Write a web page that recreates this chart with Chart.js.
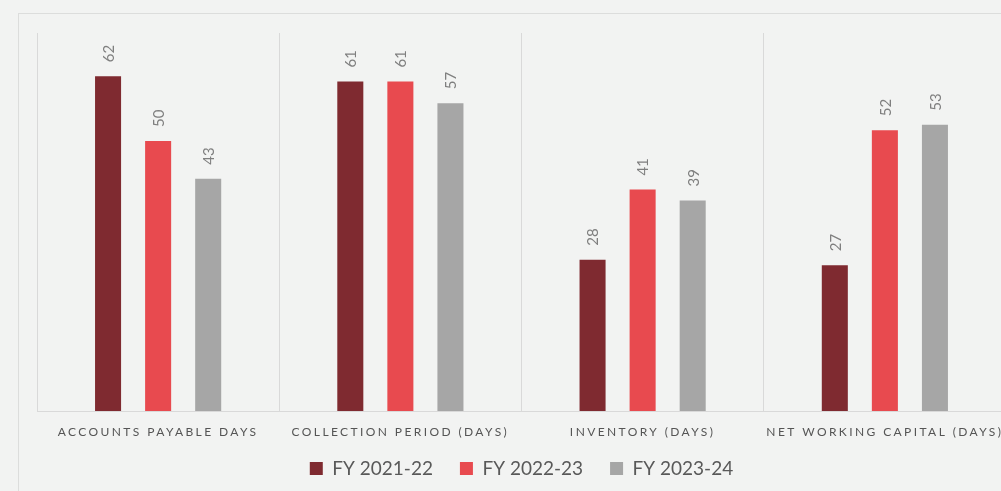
<!DOCTYPE html>
<html>
<head>
<meta charset="utf-8">
<script src="https://cdn.jsdelivr.net/npm/chart.js@4.4.0/dist/chart.umd.min.js"></script>
<style>
  html, body { margin: 0; padding: 0; background: #f2f3f2; overflow: hidden; }
  #frame { position: absolute; left: 18px; top: 13px; width: 2000px; height: 2000px; border: 1px solid #dcdddc; }
  #wrap { position: absolute; left: 0; top: 0; width: 1006px; height: 491px; }
</style>
</head>
<body>
<div id="frame"></div>
<div id="wrap"><canvas id="chart"></canvas></div>
<script>
// categories and series
const categories = ['ACCOUNTS PAYABLE DAYS', 'COLLECTION PERIOD (DAYS)', 'INVENTORY (DAYS)', 'NET WORKING CAPITAL (DAYS)'];
const fy2122 = [62, 61, 28, 27];
const fy2223 = [50, 61, 41, 52];
const fy2324 = [43, 57, 39, 53];

// value labels above bars, rotated like the original
const barLabels = {
    id: 'barLabels',
    afterDatasetsDraw(chart) {
        const ctx = chart.ctx;
        ctx.save();
        ctx.font = '15px Lato, "Open Sans", sans-serif';
        ctx.fillStyle = '#7f7f7f';
        ctx.textAlign = 'left';
        ctx.textBaseline = 'middle';
        chart.data.datasets.forEach((ds, i) => {
            chart.getDatasetMeta(i).data.forEach((bar, j) => {
                ctx.save();
                ctx.translate(bar.x, bar.y - 14);
                ctx.rotate(-Math.PI / 2);
                ctx.fillText(String(ds.data[j]), 0, 1);
                ctx.restore();
            });
        });
        ctx.restore();
    }
};

// spaced-out category labels under the axis
const catLabels = {
    id: 'catLabels',
    afterDraw(chart) {
        const ctx = chart.ctx;
        const x = chart.scales.x;
        ctx.save();
        ctx.font = '12px Lato, "Open Sans", sans-serif';
        ctx.letterSpacing = '2.4px';
        ctx.fillStyle = '#555555';
        ctx.textAlign = 'center';
        ctx.textBaseline = 'middle';
        categories.forEach((c, i) => {
            ctx.fillText(c, x.getPixelForTick(i), chart.chartArea.bottom + 21);
        });
        ctx.restore();
    }
};

new Chart(document.getElementById('chart'), {
    type: 'bar',
    data: {
        labels: categories,
        datasets: [
            { label: 'FY 2021-22', data: fy2122, backgroundColor: '#7f2a30' },
            { label: 'FY 2022-23', data: fy2223, backgroundColor: '#e84a4f' },
            { label: 'FY 2023-24', data: fy2324, backgroundColor: '#a6a6a6' }
        ]
    },
    options: {
        responsive: true,
        maintainAspectRatio: false,
        animation: false,
        layout: { padding: { top: 33, left: 37, right: 0, bottom: 3 } },
        datasets: { bar: { categoryPercentage: 0.62, barPercentage: 0.52 } },
        scales: {
            x: {
                grid: { offset: true, color: '#d9d9d9', drawTicks: false },
                border: { color: '#d9d9d9' },
                ticks: { display: false },
                afterFit(scale) { scale.height = 21; }
            },
            y: { display: false, min: 0, max: 70 }
        },
        plugins: {
            tooltip: { enabled: false },
            legend: {
                position: 'bottom',
                labels: {
                    boxWidth: 13,
                    boxHeight: 13,
                    padding: 27,
                    color: '#595959',
                    font: { size: 19, family: 'Lato, "Open Sans", sans-serif' }
                }
            }
        }
    },
    plugins: [barLabels, catLabels]
});
</script>
</body>
</html>
